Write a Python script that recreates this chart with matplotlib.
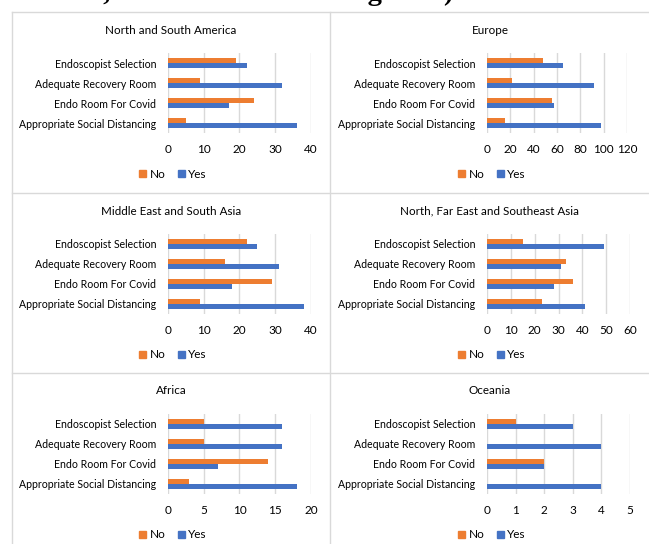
"""Six-region grid of Yes/No horizontal bar charts (Excel-style), saved to out.png."""
import matplotlib
matplotlib.use("Agg")
import matplotlib.pyplot as plt
from matplotlib.lines import Line2D
from matplotlib.patches import Patch

W, H = 649, 544
NO_C, YES_C, GRID = "#ED7D31", "#4472C4", "#d9d9d9"
plt.rcParams.update({"font.family": ["Lato", "DejaVu Sans"], "font.size": 8.5})

categories = ["Endoscopist Selection", "Adequate Recovery Room",
              "Endo Room For Covid", "Appropriate Social Distancing"]
nsa_no = [19, 9, 24, 5];      nsa_yes = [22, 32, 17, 36]
eu_no = [48, 21, 56, 15];     eu_yes = [65, 92, 57, 98]
mesa_no = [22, 16, 29, 9];    mesa_yes = [25, 31, 18, 38]
nfesa_no = [15, 33, 36, 23];  nfesa_yes = [49, 31, 28, 41]
africa_no = [5, 5, 14, 3];    africa_yes = [16, 16, 7, 18]
oce_no = [1, 0, 2, 0];        oce_yes = [3, 4, 2, 4]

# (title, no, yes, xmax, step, panel col, panel row)
panels = [
    ("North and South America", nsa_no, nsa_yes, 40, 10, 0, 0),
    ("Europe", eu_no, eu_yes, 120, 20, 1, 0),
    ("Middle East and South Asia", mesa_no, mesa_yes, 40, 10, 0, 1),
    ("North, Far East and Southeast Asia", nfesa_no, nfesa_yes, 60, 10, 1, 1),
    ("Africa", africa_no, africa_yes, 20, 5, 0, 2),
    ("Oceania", oce_no, oce_yes, 5, 1, 1, 2),
]
col_x = [(12, 330), (330, 650)]        # panel left/right, px
axis_x = [(168, 311), (487, 630)]      # plot area left/right, px
row_top = [12, 193, 373]

fig = plt.figure(figsize=(W / 100, H / 100), dpi=100)

def fx(px): return px / W
def fy(py): return 1 - py / H

# clipped caption line from the page above the figure
fig.text(fx(461), fy(0.5), "Selection, etc. can be seen in Figure 3).", ha="right",
         va="baseline", fontsize=20.5, weight="bold", family="Liberation Serif")

# panel borders
for x in (12, 330):
    fig.add_artist(Line2D([fx(x), fx(x)], [fy(12), 0], color=GRID, lw=1))
for y in row_top:
    fig.add_artist(Line2D([fx(12), 1], [fy(y), fy(y)], color=GRID, lw=1))

for title, no, yes, xmax, step, c, r in panels:
    top = row_top[r]
    x0, x1 = axis_x[c]
    if title == "Europe":
        x1 = 627
    y0, y1 = top + 41, top + 121
    ax = fig.add_axes([fx(x0), fy(y1), fx(x1 - x0), (y1 - y0) / H])
    pos = list(range(len(categories)))
    ax.barh([p - 0.13 for p in pos], no, height=0.26, color=NO_C, zorder=3)
    ax.barh([p + 0.13 for p in pos], yes, height=0.26, color=YES_C, zorder=3)
    ax.set_ylim(3.5, -0.5)
    ax.set_xlim(0, xmax)
    ax.set_xticks(range(0, xmax + 1, step))
    ax.set_yticks(pos)
    ax.set_yticklabels(categories, fontsize=7.6)
    ax.grid(axis="x", color=GRID, lw=1, zorder=0)
    for s in ax.spines.values():
        s.set_visible(False)
    ax.tick_params(length=0)
    ax.tick_params(axis="y", pad=8.5)
    ax.tick_params(axis="x", pad=8)
    pcx = sum(col_x[c]) / 2
    fig.text(fx(pcx), fy(top + 18), title, ha="center", va="center", fontsize=8.4)
    fig.legend(handles=[Patch(color=NO_C, label="No"), Patch(color=YES_C, label="Yes")],
               loc="center", bbox_to_anchor=(fx(pcx + 2), fy(top + 162)), ncol=2,
               frameon=False, handlelength=0.6, handleheight=0.6, handletextpad=0.3,
               columnspacing=1.0, fontsize=8.5)

fig.savefig("out.png", dpi=100)
